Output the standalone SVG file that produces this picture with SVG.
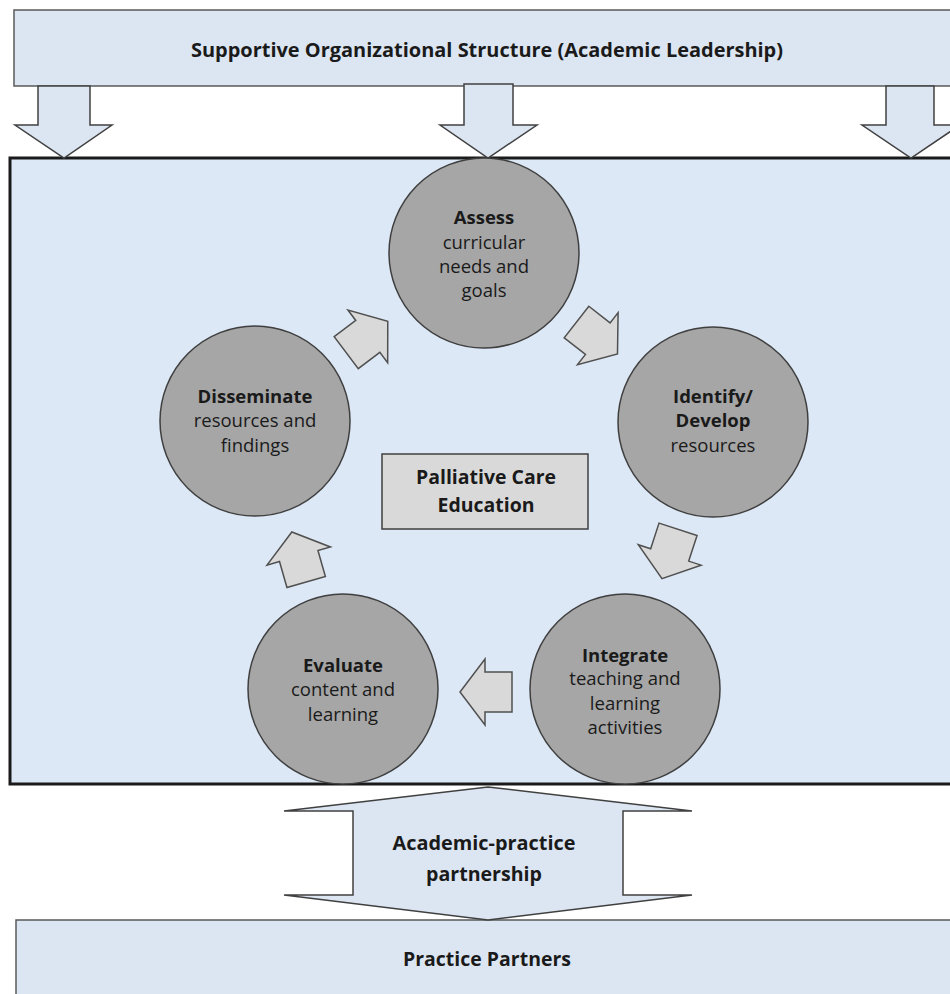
<svg xmlns="http://www.w3.org/2000/svg" xmlns:xlink="http://www.w3.org/1999/xlink" width="950" height="994" viewBox="0 0 950 994">
<style>
  .band { fill:#dce6f2; stroke:#5a5a5a; stroke-width:1.5; }
  .main { fill:#dde8f6; stroke:#1a1a1a; stroke-width:3; }
  .circ { fill:#a6a6a6; stroke:#3f3f3f; stroke-width:1.5; }
  .cbox { fill:#d9d9d9; stroke:#3f3f3f; stroke-width:1.5; }
  .bigarrow { fill:#dce6f2; stroke:#404040; stroke-width:1.5; stroke-linejoin:miter; }
  .small { fill:#d9d9d9; stroke:#505050; stroke-width:1.5; stroke-linejoin:miter; }
  text { font-family:"Open Sans","Liberation Sans",sans-serif; fill:#1a1a1a; text-anchor:middle; }
  .t { font-size:18.5px; }
  .b { font-size:18.5px; font-weight:bold; }
  .h { font-size:20px; font-weight:bold; }
</style>
<defs>
  <path id="arr" d="M-26,-20 L1,-20 L1,-33 L26,0 L1,33 L1,20 L-26,20 Z"/>
</defs>
<rect width="950" height="994" fill="#ffffff"/>

<g id="academic-leadership">
  <rect class="band" x="14" y="10" width="945" height="76"/>
  <text class="h" x="487" y="57" textLength="592" lengthAdjust="spacingAndGlyphs">Supportive Organizational Structure (Academic Leadership)</text>
</g>

<g id="main-frame">
  <rect class="main" x="10" y="158" width="945" height="626"/>
</g>

<g id="practice-partners">
  <rect class="band" x="16" y="920" width="945" height="80"/>
  <text class="h" x="487" y="966" textLength="168" lengthAdjust="spacingAndGlyphs">Practice Partners</text>
</g>

<g id="connectors">
  <path class="bigarrow" d="M38,86 L90,86 L90,125 L112,125 L64,158 L15,125 L38,125 Z"/>
  <path class="bigarrow" d="M464,84 L513,84 L513,125 L537,125 L488,158 L440,125 L464,125 Z"/>
  <path class="bigarrow" d="M886,86 L934,86 L934,125 L960,125 L911,158 L862,125 L886,125 Z"/>
  <path class="bigarrow" d="M488,787 L692,811 L623,811 L623,895 L692,895 L488,920 L284,895 L353,895 L353,811 L284,811 Z"/>
  <use xlink:href="#arr" class="small" transform="translate(367,337) rotate(-37)"/>
  <use xlink:href="#arr" class="small" transform="translate(597,338) rotate(38)"/>
  <use xlink:href="#arr" class="small" transform="translate(670,554) rotate(108)"/>
  <use xlink:href="#arr" class="small" transform="translate(486,692) rotate(180)"/>
  <use xlink:href="#arr" class="small" transform="translate(299,557) rotate(-106)"/>
</g>

<g id="partnership-label">
  <text class="h" x="484" y="850" textLength="183" lengthAdjust="spacingAndGlyphs">Academic-practice</text>
  <text class="h" x="484" y="881" textLength="116" lengthAdjust="spacingAndGlyphs">partnership</text>
</g>

<g id="assess">
  <circle class="circ" cx="484" cy="253" r="95"/>
  <text class="b" x="484" y="224">Assess</text>
  <text class="t" x="484" y="249">curricular</text>
  <text class="t" x="484" y="273">needs and</text>
  <text class="t" x="484" y="297">goals</text>
</g>

<g id="identify">
  <circle class="circ" cx="713" cy="422" r="95"/>
  <text class="b" x="713" y="403">Identify/</text>
  <text class="b" x="713" y="427">Develop</text>
  <text class="t" x="713" y="452">resources</text>
</g>

<g id="integrate">
  <circle class="circ" cx="625" cy="689" r="95"/>
  <text class="b" x="625" y="662">Integrate</text>
  <text class="t" x="625" y="685">teaching and</text>
  <text class="t" x="625" y="710">learning</text>
  <text class="t" x="625" y="734">activities</text>
</g>

<g id="evaluate">
  <circle class="circ" cx="343" cy="689" r="95"/>
  <text class="b" x="343" y="672">Evaluate</text>
  <text class="t" x="343" y="696">content and</text>
  <text class="t" x="343" y="721">learning</text>
</g>

<g id="disseminate">
  <circle class="circ" cx="255" cy="421" r="95"/>
  <text class="b" x="255" y="403">Disseminate</text>
  <text class="t" x="255" y="427">resources and</text>
  <text class="t" x="255" y="452">findings</text>
</g>

<g id="palliative-care-education">
  <rect class="cbox" x="382" y="454" width="206" height="75"/>
  <text class="h" x="486" y="484" textLength="140" lengthAdjust="spacingAndGlyphs">Palliative Care</text>
  <text class="h" x="486" y="512" textLength="97" lengthAdjust="spacingAndGlyphs">Education</text>
</g>
</svg>
